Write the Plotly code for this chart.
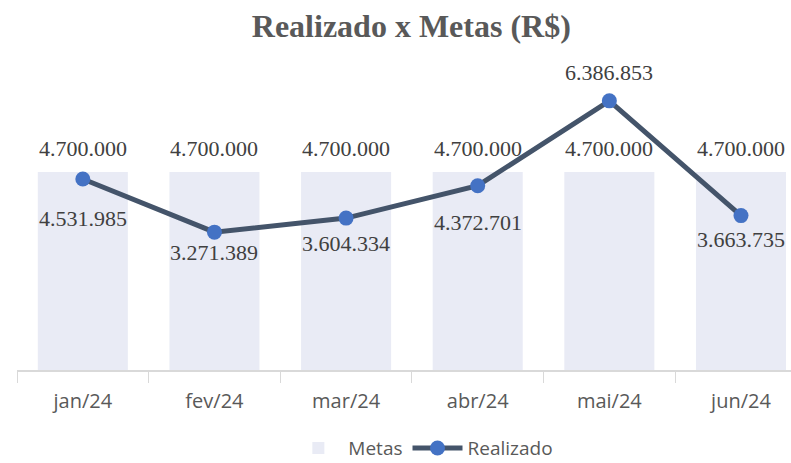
import plotly.graph_objects as go

meses = ["jan/24", "fev/24", "mar/24", "abr/24", "mai/24", "jun/24"]
metas = [4700000, 4700000, 4700000, 4700000, 4700000, 4700000]
realizado = [4531985, 3271389, 3604334, 4372701, 6386853, 3663735]

# deslocamento vertical (px) dos rotulos do realizado, como no grafico original
desloc_real = [-39, -20, -25, -37, 28, -24]


def fmt(v):
    return f"{v:,}".replace(",", ".")


fig = go.Figure()
fig.add_trace(go.Bar(
    x=meses, y=metas, name="Metas",
    marker=dict(color="#e9ebf5", line=dict(width=0)),
))
fig.add_trace(go.Scatter(
    x=meses, y=realizado, name="Realizado", mode="lines+markers",
    line=dict(color="#44546a", width=5),
    marker=dict(color="#4472c4", size=15),
))

fonte_rot = dict(family="Liberation Serif", size=22, color="#404040")
anots = []
for m, v in zip(meses, metas):
    anots.append(dict(x=m, y=v, text=fmt(v), showarrow=False, yshift=23, font=fonte_rot))
for m, v, d in zip(meses, realizado, desloc_real):
    anots.append(dict(x=m, y=v, text=fmt(v), showarrow=False, yshift=d, font=fonte_rot))

fig.update_layout(
    width=791, height=463,
    margin=dict(l=17, r=0, t=75, b=93, autoexpand=False),
    paper_bgcolor="white", plot_bgcolor="white",
    bargap=0.316,
    title=dict(text="<b>Realizado x Metas (R$)</b>", x=0.52, xanchor="center",
               y=0.944, yanchor="middle",
               font=dict(family="Liberation Serif", size=32, color="#595959")),
    legend=dict(orientation="h", x=0.525, xanchor="center", y=-0.265, yanchor="middle",
                itemwidth=50, font=dict(family="Open Sans", size=19, color="#595959")),
    annotations=anots,
    showlegend=True,
)
fig.update_xaxes(
    range=[-0.5, 5.38], tickson="boundaries", ticks="outside", ticklen=11,
    tickcolor="#d9d9d9", showline=True, linecolor="#d9d9d9", linewidth=1.5,
    showgrid=False, ticklabelstandoff=12,
    tickfont=dict(family="Open Sans", size=20, color="#595959"),
)
fig.update_yaxes(range=[0, 7000000], visible=False, showgrid=False)

fig.write_html("out.html", config={"displayModeBar": False},
               post_script="document.body.style.margin='0';")
